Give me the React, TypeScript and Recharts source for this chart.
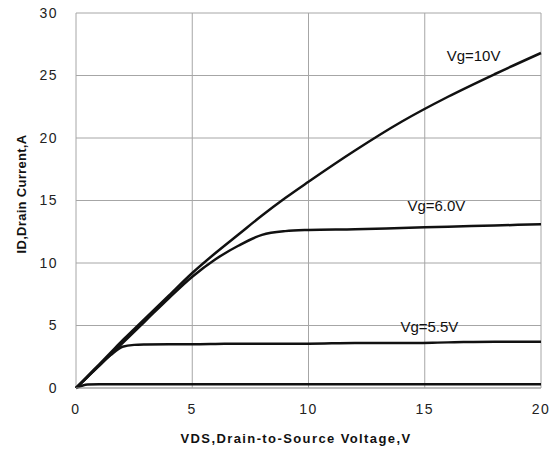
import {
  LineChart,
  Line,
  XAxis,
  YAxis,
  CartesianGrid,
  ReferenceDot,
  Label,
} from "recharts";

const vds = [0, 0.5, 1, 1.5, 2, 2.5, 3, 4, 5, 6, 7, 8, 9, 10, 12, 14, 16, 18, 20];
const id10 = [0, 0.95, 1.9, 2.85, 3.8, 4.7, 5.6, 7.4, 9.2, 10.8, 12.3, 13.8, 15.2, 16.5, 19.0, 21.3, 23.3, 25.1, 26.8];
const id60 = [0, 0.9, 1.8, 2.7, 3.6, 4.5, 5.4, 7.2, 8.9, 10.3, 11.4, 12.25, 12.55, 12.64, 12.7, 12.8, 12.9, 13.0, 13.1];
const id55 = [0, 0.9, 1.8, 2.65, 3.3, 3.45, 3.48, 3.5, 3.5, 3.52, 3.55, 3.55, 3.55, 3.55, 3.6, 3.6, 3.65, 3.7, 3.7];
const idLow = [0, 0.28, 0.3, 0.3, 0.3, 0.3, 0.3, 0.3, 0.3, 0.3, 0.3, 0.3, 0.3, 0.3, 0.3, 0.3, 0.3, 0.3, 0.3];

const xTicks = [0, 5, 10, 15, 20];
const yTicks = [0, 5, 10, 15, 20, 25, 30];

const curveLabels = [
  { text: "Vg=10V", x: 17.1, y: 26.6 },
  { text: "Vg=6.0V", x: 15.5, y: 14.6 },
  { text: "Vg=5.5V", x: 15.2, y: 4.9 },
];

const toSeries = (ys: number[]) => vds.map((x, i) => ({ x, y: ys[i] }));
const series = [id10, id60, id55, idLow].map(toSeries);

const FONT = "'Liberation Sans', Arial, sans-serif";
const GRID = "#a6a6a6";
const titleStyle = { fontSize: 13, fontWeight: "bold", fill: "#111", fontFamily: FONT };

export default function App() {
  return (
    <div style={{ position: "fixed", left: 0, top: 0, width: 554, height: 452, background: "#fff" }}>
      <LineChart
        width={554}
        height={452}
        margin={{ top: 13, right: 13, bottom: 0, left: 0 }}
      >
        <CartesianGrid stroke={GRID} strokeWidth={1} />
        <XAxis
          type="number"
          dataKey="x"
          domain={[0, 20]}
          ticks={xTicks}
          allowDuplicatedCategory={false}
          height={64}
          tickSize={0}
          tickMargin={16}
          axisLine={{ stroke: GRID }}
          tick={{ fill: "#222", fontSize: 14, letterSpacing: 1.5, fontFamily: FONT }}
        >
          <Label
            content={() => (
              <text x={296} y={443} textAnchor="middle" style={{ ...titleStyle, letterSpacing: 1.4 }}>
                VDS,Drain-to-Source Voltage,V
              </text>
            )}
          />
        </XAxis>
        <YAxis
          type="number"
          domain={[0, 30]}
          ticks={yTicks}
          width={76}
          tickSize={0}
          tickMargin={18}
          axisLine={false}
          tick={{ fill: "#222", fontSize: 14, letterSpacing: 1.5, fontFamily: FONT }}
        >
          <Label
            content={() => (
              <text
                transform="translate(26,194) rotate(-90)"
                textAnchor="middle"
                style={{ ...titleStyle, letterSpacing: 0.3 }}
              >
                ID,Drain Current,A
              </text>
            )}
          />
        </YAxis>
        {series.map((d, i) => (
          <Line
            key={i}
            data={d}
            dataKey="y"
            type="monotone"
            stroke="#111"
            strokeWidth={2.5}
            dot={false}
            isAnimationActive={false}
          />
        ))}
        {curveLabels.map((l) => (
          <ReferenceDot
            key={l.text}
            x={l.x}
            y={l.y}
            r={0}
            stroke="none"
            fill="none"
            label={{
              value: l.text,
              position: "center",
              style: { fontSize: 15, fill: "#111", fontFamily: FONT },
            }}
          />
        ))}
      </LineChart>
    </div>
  );
}
